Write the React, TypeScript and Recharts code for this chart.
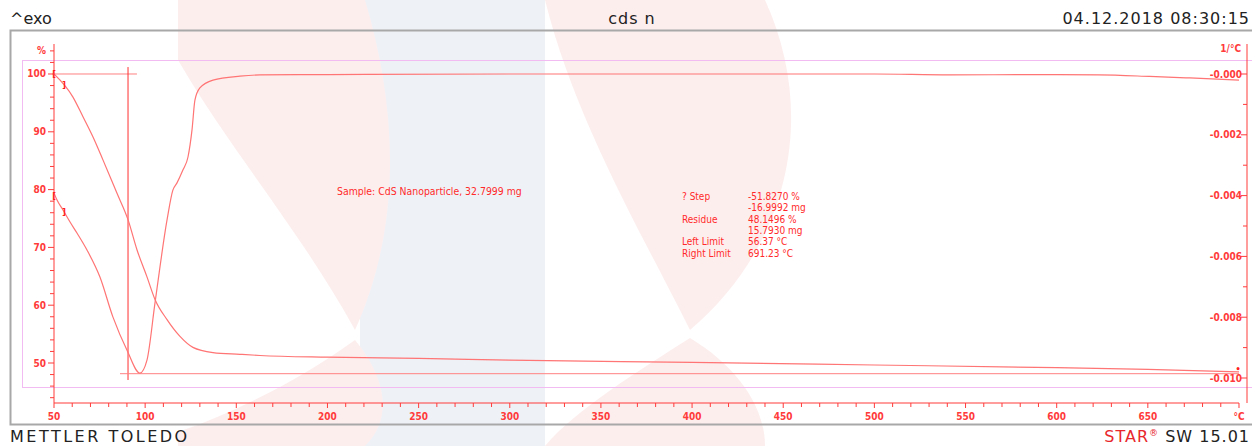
import { ComposedChart, Line, XAxis, YAxis, ReferenceLine, ReferenceDot } from 'recharts';

// TGA curve, % (left axis)
const tgaT = [50, 60.4, 65.9, 71.4, 76.9, 84.5, 90.6, 95.5, 101, 105.4, 112, 119.1, 126.2, 137.2, 152, 163, 200, 250, 300, 400, 500, 600, 650, 700];
const tgaPct = [100, 96.0, 92.6, 89.1, 85.1, 79.4, 74.8, 69.6, 64.9, 61.0, 57.5, 54.6, 52.7, 51.8, 51.5, 51.3, 51.0, 50.8, 50.5, 50.1, 49.65, 49.2, 48.9, 48.45];

// DTG curve, 1/°C (right axis)
const dtgT = [50, 51.6, 54.9, 58.8, 62.6, 68.1, 75.2, 82.3, 90.0, 97.1, 101, 105.4, 112, 115.2, 117.4, 120.7, 123.5, 125.7, 127.3, 130, 137.2, 152, 163, 200, 300, 400, 500, 541, 590, 623, 651, 673, 700];
const dtgVal = [-0.00391, -0.00414, -0.00447, -0.00487, -0.00523, -0.00579, -0.00668, -0.00799, -0.00908, -0.00984, -0.00941, -0.00753, -0.0048, -0.00382, -0.00359, -0.00316, -0.00273, -0.00184, -0.00086, -0.00046, -0.0002, -0.00007, -0.00003, -0.00002, 0, 0, 0, -0.00003, -0.00002, -0.00003, -0.00008, -0.00013, -0.0002];

const xTicks = Array.from({ length: 66 }, (_, i) => 50 + i * 10);
const leftTicks = Array.from({ length: 31 }, (_, i) => 44 + i * 2);
const rightTicks = Array.from({ length: 11 }, (_, i) => -i / 1000);

const infoLabels = ['? Step', '', 'Residue', '', 'Left Limit', 'Right Limit'];
const infoValues = ['-51.8270 %', '-16.9992 mg', '48.1496 %', '15.7930 mg', '56.37 °C', '691.23 °C'];

const tga = tgaT.map((T, i) => ({ T, v: tgaPct[i] }));
const dtg = dtgT.map((T, i) => ({ T, v: dtgVal[i] }));

const AXIS = '#ff3b3b';
const CURVE = '#ff7474';
const FONT = '"DejaVu Sans Condensed", "DejaVu Sans", sans-serif';
const HEAD = '"DejaVu Sans", sans-serif';
const PINK = '#fdeeee';
const BLUE = '#eef2f7';

const LeftTick = ({ x, y, payload }: any) => {
  const v = payload.value;
  const major = v % 10 === 0;
  return (
    <g>
      <line x1={x - (major ? 6 : 4)} x2={x} y1={y} y2={y} stroke={AXIS} />
      {(major || v === 104) && (
        <text x={x - 8} y={y + 3.5} textAnchor="end" fontSize={10} fontFamily={FONT} fontWeight="bold" fill={AXIS}>
          {v === 104 ? '%' : v}
        </text>
      )}
    </g>
  );
};

const RightTick = ({ x, y, payload }: any) => {
  const n = Math.round(-payload.value * 1000);
  const major = n % 2 === 0;
  return (
    <g>
      <line x1={x - (major ? 6 : 4)} x2={x} y1={y} y2={y} stroke={AXIS} />
      {major && (
        <text x={x - 5} y={y + 3.5} textAnchor="end" fontSize={10} fontFamily={FONT} fontWeight="bold" fill={AXIS}>
          {'-' + (n / 1000).toFixed(3)}
        </text>
      )}
    </g>
  );
};

const BottomTick = ({ x, y, payload }: any) => {
  const v = payload.value;
  const major = v % 50 === 0;
  return (
    <g>
      <line x1={x} x2={x} y1={y} y2={y + (major ? 5 : 4)} stroke={AXIS} />
      {major && (
        <text x={x} y={y + 17} textAnchor="middle" fontSize={10} fontFamily={FONT} fontWeight="bold" fill={AXIS}>
          {v === 700 ? '°C' : v}
        </text>
      )}
    </g>
  );
};

const glyph = (ch: string, dx: number, dy: number) => (p: any) => (
  <text x={p.cx + dx} y={p.cy + dy} fontSize={9} fontWeight="bold" fontFamily={FONT} fill="#ff2020" textAnchor="middle">{ch}</text>
);

export default function App() {
  return (
    <div style={{ position: 'absolute', left: 0, top: 0, width: 1252, height: 446, background: '#fff', overflow: 'hidden' }}>
      <svg width={1252} height={446} style={{ position: 'absolute', left: 0, top: 0 }}>
        {/* faint watermark logo */}
        <rect x={360} y={0} width={185} height={446} fill={BLUE} />
        <path d="M178,0 L365,0 C395,100 405,220 355,330 C300,230 230,150 178,60 Z" fill={PINK} />
        <path d="M178,446 L365,446 C392,420 388,380 355,340 C300,380 230,415 178,432 Z" fill={PINK} />
        <path d="M545,0 L765,0 C820,120 785,250 690,330 C640,230 575,120 545,0 Z" fill={PINK} />
        <path d="M545,446 L765,446 C765,405 735,365 690,338 C640,370 575,410 545,446 Z" fill={PINK} />
        <rect x={10.5} y={30.5} width={1260} height={394} fill="none" stroke="#a8a8a8" strokeWidth={2} />
        <rect x={22.5} y={60.5} width={1260} height={327} fill="none" stroke="#f2bcf2" />
        <text x={10} y={24} fontSize={16} fontFamily={HEAD} fill="#222">^exo</text>
        <text x={632} y={24} fontSize={16} fontFamily={HEAD} fill="#222" textAnchor="middle" letterSpacing={1}>cds n</text>
        <text x={1250} y={24} fontSize={16} fontFamily={HEAD} fill="#222" textAnchor="end" letterSpacing={1}>04.12.2018 08:30:15</text>
        <text x={10} y={442} fontSize={16} fontFamily={HEAD} fill="#222" letterSpacing={2.5}>METTLER TOLEDO</text>
        <text x={1250} y={442} fontSize={16} fontFamily={HEAD} fill="#222" textAnchor="end" letterSpacing={1}>
          <tspan fill="#e8262b">STAR</tspan>
          <tspan fill="#e8262b" fontSize={9} dy={-6}>®</tspan>
          <tspan dy={6}> SW 15.01</tspan>
        </text>
        <text x={1241} y={52} fontSize={10} fontFamily={FONT} fontWeight="bold" fill={AXIS} textAnchor="end">1/°C</text>
        <text x={337} y={195} fontSize={10.4} fontFamily={FONT} fill="#ff2a2a">Sample: CdS Nanoparticle, 32.7999 mg</text>
        {infoLabels.map((t, i) => (
          <text key={'l' + i} x={682} y={200 + i * 11.3} fontSize={10} fontFamily={FONT} fill="#ff2a2a">{t}</text>
        ))}
        {infoValues.map((t, i) => (
          <text key={'v' + i} x={748} y={200 + i * 11.3} fontSize={10} fontFamily={FONT} fill="#ff2a2a">{t}</text>
        ))}
      </svg>
      <div style={{ position: 'absolute', left: 0, top: 0 }}>
        <ComposedChart width={1252} height={446} margin={{ top: 44, right: 0, bottom: 0, left: 0 }}>
          <XAxis dataKey="T" type="number" domain={[50, 704.39]} ticks={xTicks} interval={0} allowDataOverflow
            axisLine={false} tickLine={false} tickSize={0} tickMargin={0} height={43} tick={<BottomTick />} />
          <YAxis yAxisId="left" type="number" domain={[43.08, 105.19]} ticks={leftTicks} interval={0} allowDataOverflow
            width={54} axisLine={{ stroke: AXIS }} tickLine={false} tickSize={0} tickMargin={0} tick={<LeftTick />} />
          <YAxis yAxisId="right" orientation="right" type="number" domain={[-0.010822, 0.000987]} ticks={rightTicks} interval={0} allowDataOverflow
            width={5} axisLine={{ stroke: AXIS }} tickLine={false} tickSize={0} tickMargin={0} tick={<RightTick />} />
          <ReferenceLine yAxisId="left" segment={[{ x: 50, y: 43.08 }, { x: 700, y: 43.08 }]} stroke={AXIS} ifOverflow="visible" />
          <ReferenceLine yAxisId="left" segment={[{ x: 49, y: 100 }, { x: 95.5, y: 100 }]} stroke="#ff8080" ifOverflow="visible" />
          <ReferenceLine yAxisId="left" segment={[{ x: 90.6, y: 101.2 }, { x: 90.6, y: 47.06 }]} stroke="#ff3030" ifOverflow="visible" />
          <ReferenceLine yAxisId="left" segment={[{ x: 86.2, y: 48.15 }, { x: 700, y: 48.15 }]} stroke="#ff8080" ifOverflow="visible" />
          <Line yAxisId="left" data={tga} dataKey="v" type="monotone" stroke={CURVE} strokeWidth={1.2} dot={false} isAnimationActive={false} />
          <Line yAxisId="right" data={dtg} dataKey="v" type="monotone" stroke={CURVE} strokeWidth={1.2} dot={false} isAnimationActive={false} />
          <ReferenceDot yAxisId="left" x={50} y={100} ifOverflow="visible" shape={glyph('[', 0, 3)} />
          <ReferenceDot yAxisId="left" x={55.5} y={98.1} ifOverflow="visible" shape={glyph(']', 0, 3)} />
          <ReferenceDot yAxisId="right" x={50} y={-0.004} ifOverflow="visible" shape={glyph('[', 0, 3)} />
          <ReferenceDot yAxisId="right" x={55.5} y={-0.00454} ifOverflow="visible" shape={glyph(']', 0, 3)} />
          <ReferenceDot yAxisId="left" x={699.5} y={48.9} ifOverflow="visible" shape={glyph('•', 0, 3)} />
        </ComposedChart>
      </div>
    </div>
  );
}
